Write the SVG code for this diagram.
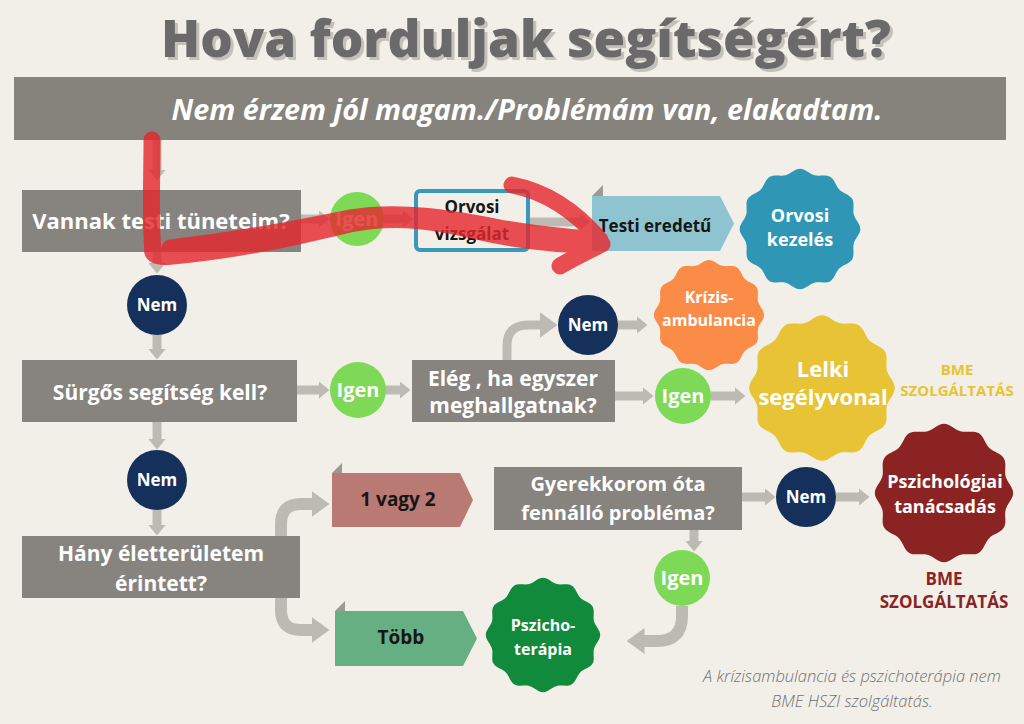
<svg xmlns="http://www.w3.org/2000/svg" width="1024" height="724" viewBox="0 0 1024 724">
<defs>
<style>
.t{font-family:"Open Sans","Liberation Sans",sans-serif;font-weight:700;text-anchor:middle}
.w{fill:#ffffff}
.k{fill:#161616}
.box{fill:#878480}
.nem{fill:#14305b}
.igen{fill:#7dd956}
.ar{fill:none;stroke:#bdbab3;stroke-width:9}
.arc{fill:none;stroke:#bdbab3;stroke-width:12}
.fold{fill:#9d9a94}
.red{fill:none;stroke:#e6262c;stroke-width:17;stroke-linecap:round;stroke-linejoin:round}
.foot{font-family:"Open Sans","Liberation Sans",sans-serif;font-weight:300;font-style:italic;text-anchor:middle;fill:#707070}
.ttl{font-family:"Open Sans","Liberation Sans",sans-serif;font-weight:800;text-anchor:middle;fill:#6b6b6b}
</style>
<filter id="shadow" x="-5%" y="-20%" width="110%" height="150%">
<feDropShadow dx="3" dy="3" stdDeviation="0.6" flood-color="#c4c1bb" flood-opacity="1"/>
</filter>
<marker id="ah" viewBox="0 0 11 18" refX="0.5" refY="9" markerWidth="11" markerHeight="18" markerUnits="userSpaceOnUse" orient="auto"><path d="M0,0 L11,9 L0,18 Z" fill="#bdbab3"/></marker>
<marker id="ahb" viewBox="0 0 18 26" refX="0.5" refY="13" markerWidth="18" markerHeight="26" markerUnits="userSpaceOnUse" orient="auto"><path d="M0,0 L18,13 L0,26 Z" fill="#bdbab3"/></marker>
<path id="wave" d="M104,0 C104,9 95.06,16.15 92.73,24.84 C90.4,33.53 94.57,44.21 90.07,52 C85.57,59.79 74.24,61.52 67.88,67.88 C61.52,74.24 59.79,85.57 52,90.07 C44.21,94.57 33.53,90.4 24.84,92.73 C16.15,95.06 9,104 0,104 C-9,104 -16.15,95.06 -24.84,92.73 C-33.53,90.4 -44.21,94.57 -52,90.07 C-59.79,85.57 -61.52,74.24 -67.88,67.88 C-74.24,61.52 -85.57,59.79 -90.07,52 C-94.57,44.21 -90.4,33.53 -92.73,24.84 C-95.06,16.15 -104,9 -104,0 C-104,-9 -95.06,-16.15 -92.73,-24.84 C-90.4,-33.53 -94.57,-44.21 -90.07,-52 C-85.57,-59.79 -74.24,-61.52 -67.88,-67.88 C-61.52,-74.24 -59.79,-85.57 -52,-90.07 C-44.21,-94.57 -33.53,-90.4 -24.84,-92.73 C-16.15,-95.06 -9,-104 0,-104 C9,-104 16.15,-95.06 24.84,-92.73 C33.53,-90.4 44.21,-94.57 52,-90.07 C59.79,-85.57 61.52,-74.24 67.88,-67.88 C74.24,-61.52 85.57,-59.79 90.07,-52 C94.57,-44.21 90.4,-33.53 92.73,-24.84 C95.06,-16.15 104,-9 104,0 Z"/>
</defs>
<rect x="0" y="0" width="1024" height="724" fill="#f2efe9"/>

<g id="title">
<text x="526" y="57" class="ttl" font-size="52" textLength="730" lengthAdjust="spacingAndGlyphs" filter="url(#shadow)">Hova forduljak segítségért?</text>
</g>

<g id="banner">
<rect x="14" y="77" width="992" height="63" fill="#86827c"/>
<text x="527" y="120" class="t w" font-size="29" font-style="italic" textLength="711" lengthAdjust="spacingAndGlyphs">Nem érzem jól magam./Problémám van, elakadtam.</text>
</g>

<g id="connectors">
<path class="ar" d="M157,140 L157,170" marker-end="url(#ah)"/>
<path class="ar" d="M157,252 L157,263" marker-end="url(#ah)"/>
<path class="ar" d="M301,219 L319,219" marker-end="url(#ah)"/>
<path class="ar" d="M384,219 L403,219" marker-end="url(#ah)"/>
<path class="ar" d="M530,222 L580,222" marker-end="url(#ah)"/>
<path class="ar" d="M157,335 L157,349" marker-end="url(#ah)"/>
<path class="ar" d="M297,390 L319,390" marker-end="url(#ah)"/>
<path class="ar" d="M385,390 L400,390" marker-end="url(#ah)"/>
<path class="ar" d="M507,360 L507,346 Q507,325 528,325 L540,325" marker-end="url(#ahb)"/>
<path class="ar" d="M618,325 L637,325" marker-end="url(#ah)"/>
<path class="ar" d="M615,396 L643,396" marker-end="url(#ah)"/>
<path class="ar" d="M711,396 L735,396" marker-end="url(#ah)"/>
<path class="ar" d="M157,422 L157,439" marker-end="url(#ah)"/>
<path class="ar" d="M157,510 L157,525" marker-end="url(#ah)"/>
<path class="arc" d="M281,536 L281,524 Q281,504 301,504 L312,504" marker-end="url(#ahb)"/>
<path class="arc" d="M281,598 L281,610 Q281,630 301,630 L312,630" marker-end="url(#ahb)"/>
<path class="ar" d="M742,497 L765,497" marker-end="url(#ah)"/>
<path class="ar" d="M836,497 L859,497" marker-end="url(#ah)"/>
<path class="ar" d="M694,530 L694,541" marker-end="url(#ah)"/>
<path class="arc" d="M682,606 L682,616 Q682,641 657,641 L644,641" marker-end="url(#ahb)"/>
</g>

<g id="q-testi">
<rect class="box" x="22" y="190" width="279" height="62"/>
<text class="t w" x="161" y="229" font-size="22">Vannak testi tüneteim?</text>
</g>
<g id="igen1"><circle class="igen" cx="357" cy="219" r="27"/><text class="t w" x="357" y="226" font-size="20">Igen</text></g>
<g id="orvosi-vizsgalat">
<rect x="416" y="191" width="112" height="59" rx="4" fill="none" stroke="#3a98b9" stroke-width="4"/>
<text class="t k" x="472" y="213" font-size="17">Orvosi</text>
<text class="t k" x="472" y="240" font-size="17">vizsgálat</text>
</g>
<g id="testi-eredetu">
<polygon points="592,196 720,196 734,223.5 720,251 592,251" fill="#8ec3d0"/>
<polygon class="fold" points="592,196 603,185 603,196"/>
<text class="t k" x="655" y="232" font-size="17">Testi eredetű</text>
</g>
<g id="orvosi-kezeles">
<use href="#wave" transform="translate(800,229) scale(0.58)" fill="#2f97b5"/>
<text class="t w" x="800" y="222" font-size="18">Orvosi</text>
<text class="t w" x="800" y="246" font-size="18">kezelés</text>
</g>

<g id="nem1"><circle class="nem" cx="157" cy="305" r="30"/><text class="t w" x="157" y="311" font-size="17">Nem</text></g>

<g id="q-surgos">
<rect class="box" x="22" y="360" width="275" height="62"/>
<text class="t w" x="160" y="400" font-size="21">Sürgős segítség kell?</text>
</g>
<g id="igen2"><circle class="igen" cx="358" cy="390" r="28"/><text class="t w" x="358" y="397" font-size="20">Igen</text></g>
<g id="q-eleg">
<rect class="box" x="412" y="360" width="203" height="62"/>
<text class="t w" x="513" y="386" font-size="21">Elég , ha egyszer</text>
<text class="t w" x="513" y="413" font-size="21">meghallgatnak?</text>
</g>
<g id="nem2"><circle class="nem" cx="588" cy="325" r="30"/><text class="t w" x="588" y="331" font-size="17">Nem</text></g>
<g id="krizis">
<use href="#wave" transform="translate(709,315) scale(0.53)" fill="#fb8c47"/>
<text class="t w" x="709" y="303" font-size="16">Krízis-</text>
<text class="t w" x="709" y="326" font-size="16">ambulancia</text>
</g>
<g id="igen3"><circle class="igen" cx="683" cy="396" r="28"/><text class="t w" x="683" y="403" font-size="20">Igen</text></g>
<g id="lelki">
<use href="#wave" transform="translate(822,388) scale(0.70)" fill="#e7c335"/>
<text class="t w" x="823" y="377" font-size="22">Lelki</text>
<text class="t w" x="823" y="405" font-size="22">segélyvonal</text>
</g>
<g id="bme-yellow">
<text class="t" x="957" y="375" font-size="15" fill="#e7c335">BME</text>
<text class="t" x="957" y="396" font-size="15" fill="#e7c335">SZOLGÁLTATÁS</text>
</g>

<g id="nem3"><circle class="nem" cx="157" cy="480" r="30"/><text class="t w" x="157" y="486" font-size="17">Nem</text></g>

<g id="q-hany">
<rect class="box" x="22" y="536" width="278" height="62"/>
<text class="t w" x="161" y="561" font-size="21">Hány életterületem</text>
<text class="t w" x="161" y="591" font-size="21">érintett?</text>
</g>
<g id="egy-ketto">
<polygon points="332,473 460,473 473,500 460,527 332,527" fill="#b97a74"/>
<polygon class="fold" points="332,473 342,463 342,473"/>
<text class="t k" x="398" y="506" font-size="19">1 vagy 2</text>
</g>
<g id="tobb">
<polygon points="335,611 463,611 477,638.5 463,666 335,666" fill="#66af82"/>
<polygon class="fold" points="335,611 345,601 345,611"/>
<text class="t k" x="401" y="644" font-size="19">Több</text>
</g>
<g id="q-gyerek">
<rect class="box" x="494" y="467" width="248" height="63"/>
<text class="t w" x="618" y="491" font-size="20">Gyerekkorom óta</text>
<text class="t w" x="618" y="520" font-size="20">fennálló probléma?</text>
</g>
<g id="nem4"><circle class="nem" cx="806" cy="497" r="30"/><text class="t w" x="806" y="503" font-size="17">Nem</text></g>
<g id="pszichologiai">
<use href="#wave" transform="translate(944,493) scale(0.665)" fill="#8b2323"/>
<text class="t w" x="945" y="488" font-size="18">Pszichológiai</text>
<text class="t w" x="945" y="513" font-size="18">tanácsadás</text>
</g>
<g id="bme-red">
<text class="t" x="944" y="585" font-size="17" fill="#8b2323">BME</text>
<text class="t" x="944" y="608" font-size="17" fill="#8b2323">SZOLGÁLTATÁS</text>
</g>
<g id="igen4"><circle class="igen" cx="682" cy="578" r="28"/><text class="t w" x="682" y="585" font-size="20">Igen</text></g>
<g id="pszichoterapia">
<use href="#wave" transform="translate(543,635) scale(0.55)" fill="#118a3b"/>
<text class="t w" x="543" y="631" font-size="16">Pszicho-</text>
<text class="t w" x="543" y="655" font-size="16">terápia</text>
</g>

<g id="footnote">
<text class="foot" x="852" y="682" font-size="16.5">A krízisambulancia és pszichoterápia nem</text>
<text class="foot" x="852" y="707" font-size="16.5">BME HSZI szolgáltatás.</text>
</g>

<g id="annotation" opacity="0.8">
<path class="red" d="M152,140 C152,180 150,220 153,252"/>
<path class="red" d="M153,252 Q155,258 172,256 C240,250 300,236 350,224 C400,214 440,222 490,234 C530,242 570,245 598,245"/>
<path class="red" d="M170,248 C240,240 300,228 350,218 C400,210 450,218 500,228 C540,235 575,238 598,240"/>
<path class="red" d="M512,185 C548,192 578,214 600,240"/>
<path class="red" d="M560,266 C575,257 590,250 602,244"/>
</g>
</svg>
